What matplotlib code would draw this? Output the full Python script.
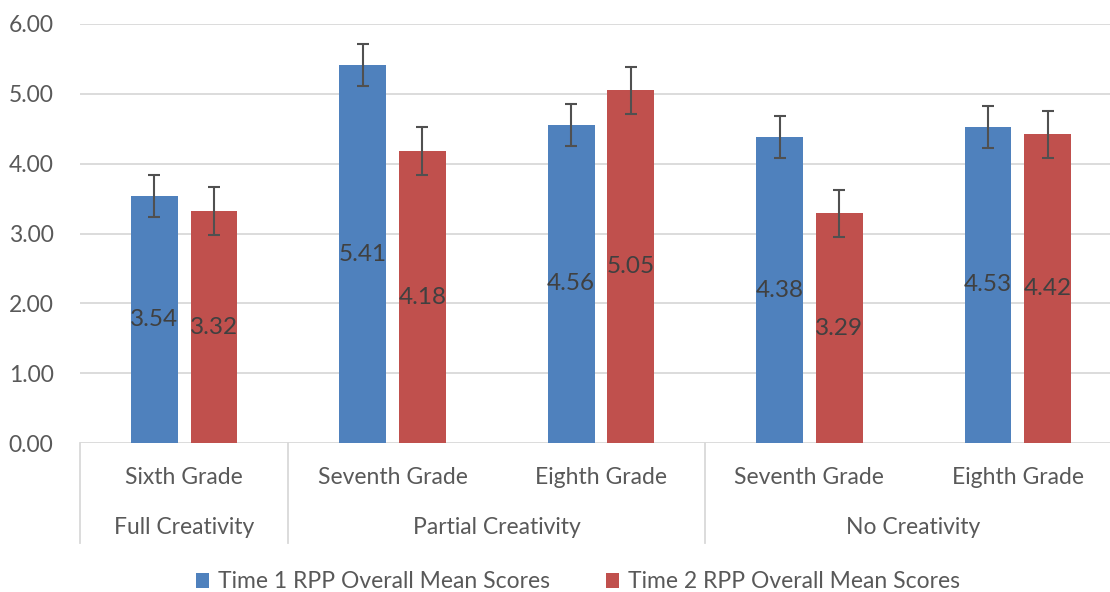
import matplotlib
matplotlib.use("Agg")
import matplotlib.pyplot as plt
from matplotlib.patches import Patch
import numpy as np

plt.rcParams['font.family'] = ['Lato', 'DejaVu Sans']

grades = ["Sixth Grade", "Seventh Grade", "Eighth Grade", "Seventh Grade", "Eighth Grade"]
groups = ["Full Creativity", "Partial Creativity", "No Creativity"]
group_sizes = [1, 2, 2]
time1 = [3.54, 5.41, 4.56, 4.38, 4.53]
time2 = [3.32, 4.18, 5.05, 3.29, 4.42]
err1 = [0.30, 0.30, 0.30, 0.30, 0.30]
err2 = [0.34, 0.34, 0.34, 0.34, 0.34]
series_names = ["Time 1 RPP Overall Mean Scores", "Time 2 RPP Overall Mean Scores"]
yticks = [0, 1, 2, 3, 4, 5, 6]

blue = "#4F81BD"
red = "#C0504D"
txt = "#595959"
grid = "#D9D9D9"

W, H = 1110, 592
fig = plt.figure(figsize=(W / 100, H / 100), dpi=100)
left, right, top, bottom = 80, 1122, 24, 443
ax = fig.add_axes([left / W, (H - bottom) / H, (right - left) / W, (bottom - top) / H])

x = np.arange(len(grades))
bw = 0.225
off = 0.143
ek = dict(ecolor="#505050", elinewidth=1.5, capsize=4.3, capthick=1.5)
b1 = ax.bar(x - off, time1, bw, color=blue, yerr=err1, error_kw=ek, zorder=2)
b2 = ax.bar(x + off, time2, bw, color=red, yerr=err2, error_kw=ek, zorder=2)

for bars, vals in ((b1, time1), (b2, time2)):
    for r, v in zip(bars, vals):
        ax.text(r.get_x() + r.get_width() / 2, v / 2, f"{v:.2f}", ha="center", va="center",
                fontsize=17.5, color="#404040", zorder=3)

ax.set_xlim(-0.5, len(grades) - 0.5)
ax.set_ylim(0, 6)
ax.set_yticks(yticks)
ax.set_yticklabels([f"{t:.2f}" for t in yticks], fontsize=16.5, color=txt)
ax.tick_params(axis="y", length=0, pad=19)
ax.set_xticks([])
for s in ax.spines.values():
    s.set_visible(False)
ax.grid(axis="y", color=grid, lw=1.3, zorder=0)
ax.set_axisbelow(True)

trans = ax.get_xaxis_transform()
ah = bottom - top
for i, g in enumerate(grades):
    ax.text(i, -35 / ah, g, transform=trans, ha="center", va="center", fontsize=16.5, color=txt)

start = -0.5
bounds = [start]
for gname, n in zip(groups, group_sizes):
    end = start + n
    ax.text((start + end) / 2, -84 / ah, gname, transform=trans, ha="center", va="center",
            fontsize=16.5, color=txt)
    bounds.append(end)
    start = end
for b in bounds:
    ax.plot([b, b], [0, -100 / ah], transform=trans, color=grid, lw=1.3, clip_on=False)

handles = [Patch(facecolor=blue, label=series_names[0]), Patch(facecolor=red, label=series_names[1])]
fig.legend(handles=handles, loc="center", bbox_to_anchor=(578 / W, (H - 582) / H), ncol=2,
           frameon=False, fontsize=16.5, labelcolor=txt, handlelength=0.6, handleheight=0.6,
           handletextpad=0.4, columnspacing=2.4)

fig.savefig("out.png", dpi=100, facecolor="white")
